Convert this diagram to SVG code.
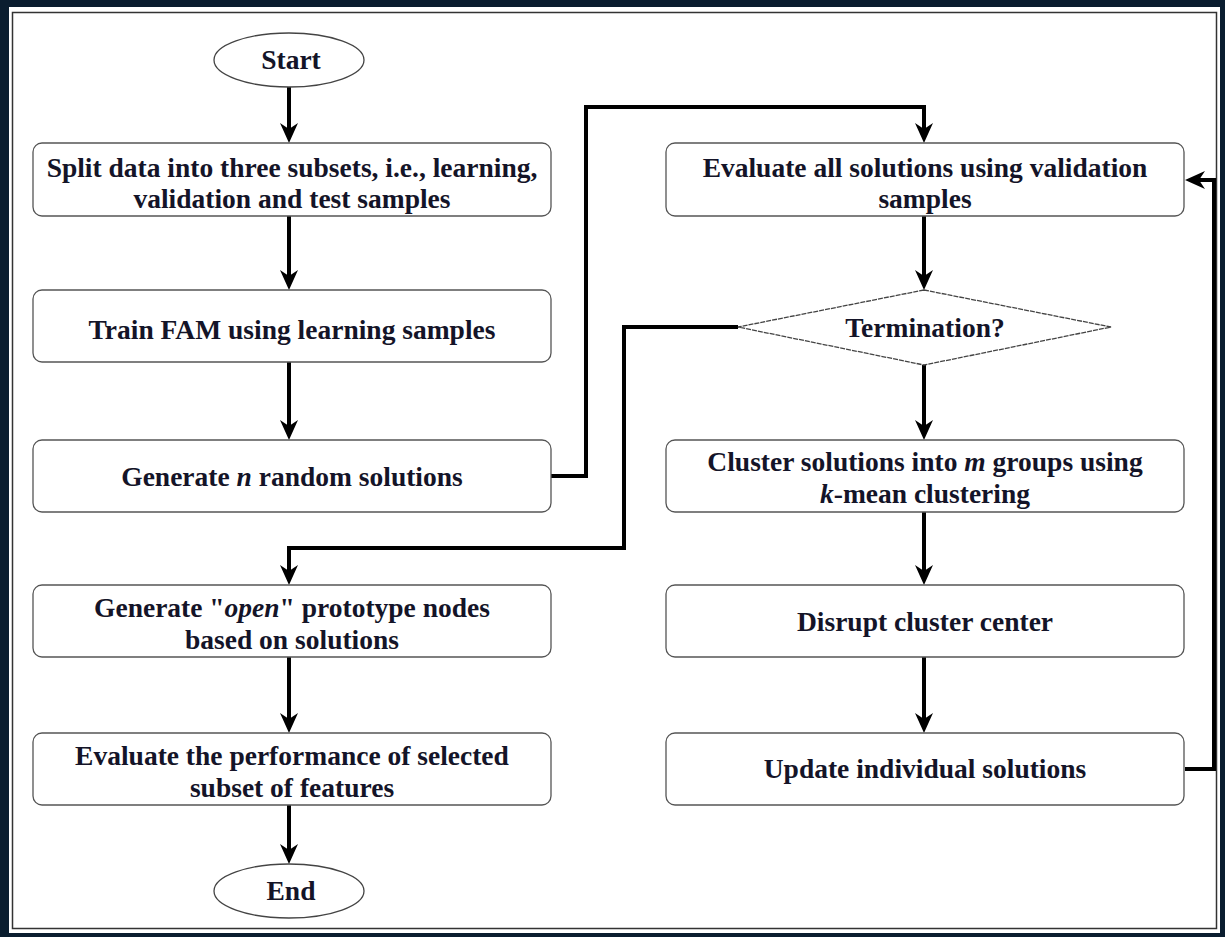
<svg xmlns="http://www.w3.org/2000/svg" width="1225" height="937" viewBox="0 0 1225 937">
<style>
.box{fill:#fff;stroke:#555;stroke-width:1.3}
.term{fill:#fff;stroke:#444;stroke-width:1.3}
.t{font-family:"Liberation Serif","Times New Roman",serif;font-weight:bold;font-size:27.5px;fill:#141428;text-anchor:middle}
.c{fill:none;stroke:#000;stroke-width:4;marker-end:url(#ah)}
</style>
<defs>
<marker id="ah" viewBox="0 0 20 18" refX="14" refY="9" markerWidth="20" markerHeight="18" markerUnits="userSpaceOnUse" orient="auto">
<path d="M0,0 L20,9 L0,18 L6,9 z" fill="#000"/>
</marker>
</defs>
<rect x="0" y="0" width="1225" height="937" fill="#0a1d2f"/>
<rect x="9" y="7" width="1211" height="926" fill="#fff"/>
<rect x="12.5" y="12.5" width="1204" height="916" fill="none" stroke="#333" stroke-width="1.5"/>

<g id="connectors">
<path class="c" d="M289,87 V137"/>
<path class="c" d="M289,216 V284"/>
<path class="c" d="M289,362 V434"/>
<path class="c" d="M551,476 H586 V107 H924 V137"/>
<path class="c" d="M924,216 V284"/>
<path class="c" d="M738,327 H624 V548 H289 V579"/>
<path class="c" d="M924,365 V434"/>
<path class="c" d="M924,512 V579"/>
<path class="c" d="M924,657 V727"/>
<path class="c" d="M1185,769 H1214 V180 H1191"/>
<path class="c" d="M289,657 V727"/>
<path class="c" d="M289,805 V858"/>
</g>

<g id="start">
<ellipse class="term" cx="289" cy="60" rx="75" ry="27"/>
<text class="t" x="291" y="69">Start</text>
</g>
<g id="split">
<rect class="box" x="33" y="143" width="518" height="73" rx="9"/>
<text class="t" x="292" y="177">Split data into three subsets, i.e., learning,</text>
<text class="t" x="292" y="208">validation and test samples</text>
</g>
<g id="train">
<rect class="box" x="33" y="290" width="518" height="72" rx="9"/>
<text class="t" x="292" y="339">Train FAM using learning samples</text>
</g>
<g id="generate">
<rect class="box" x="33" y="440" width="518" height="72" rx="9"/>
<text class="t" x="292" y="486">Generate <tspan font-style="italic">n</tspan> random solutions</text>
</g>
<g id="open">
<rect class="box" x="33" y="585" width="518" height="72" rx="9"/>
<text class="t" x="292" y="617">Generate "<tspan font-style="italic">open</tspan>" prototype nodes</text>
<text class="t" x="292" y="649">based on solutions</text>
</g>
<g id="evalperf">
<rect class="box" x="33" y="733" width="518" height="72" rx="9"/>
<text class="t" x="292" y="765">Evaluate the performance of selected</text>
<text class="t" x="292" y="797">subset of features</text>
</g>
<g id="end">
<ellipse class="term" cx="289" cy="891" rx="75" ry="27"/>
<text class="t" x="291" y="900">End</text>
</g>
<g id="evalall">
<rect class="box" x="666" y="143" width="518" height="73" rx="9"/>
<text class="t" x="925" y="177">Evaluate all solutions using validation</text>
<text class="t" x="925" y="208">samples</text>
</g>
<g id="termination">
<polygon points="924,290 1111,327 924,365 738,327" fill="#fff" stroke="#444" stroke-width="1.3" stroke-dasharray="5,1"/>
<text class="t" x="925" y="337">Termination?</text>
</g>
<g id="cluster">
<rect class="box" x="666" y="440" width="518" height="72" rx="9"/>
<text class="t" x="925" y="471">Cluster solutions into <tspan font-style="italic">m</tspan> groups using</text>
<text class="t" x="925" y="503"><tspan font-style="italic">k</tspan>-mean clustering</text>
</g>
<g id="disrupt">
<rect class="box" x="666" y="585" width="518" height="72" rx="9"/>
<text class="t" x="925" y="631">Disrupt cluster center</text>
</g>
<g id="update">
<rect class="box" x="666" y="733" width="518" height="72" rx="9"/>
<text class="t" x="925" y="778">Update individual solutions</text>
</g>
</svg>
